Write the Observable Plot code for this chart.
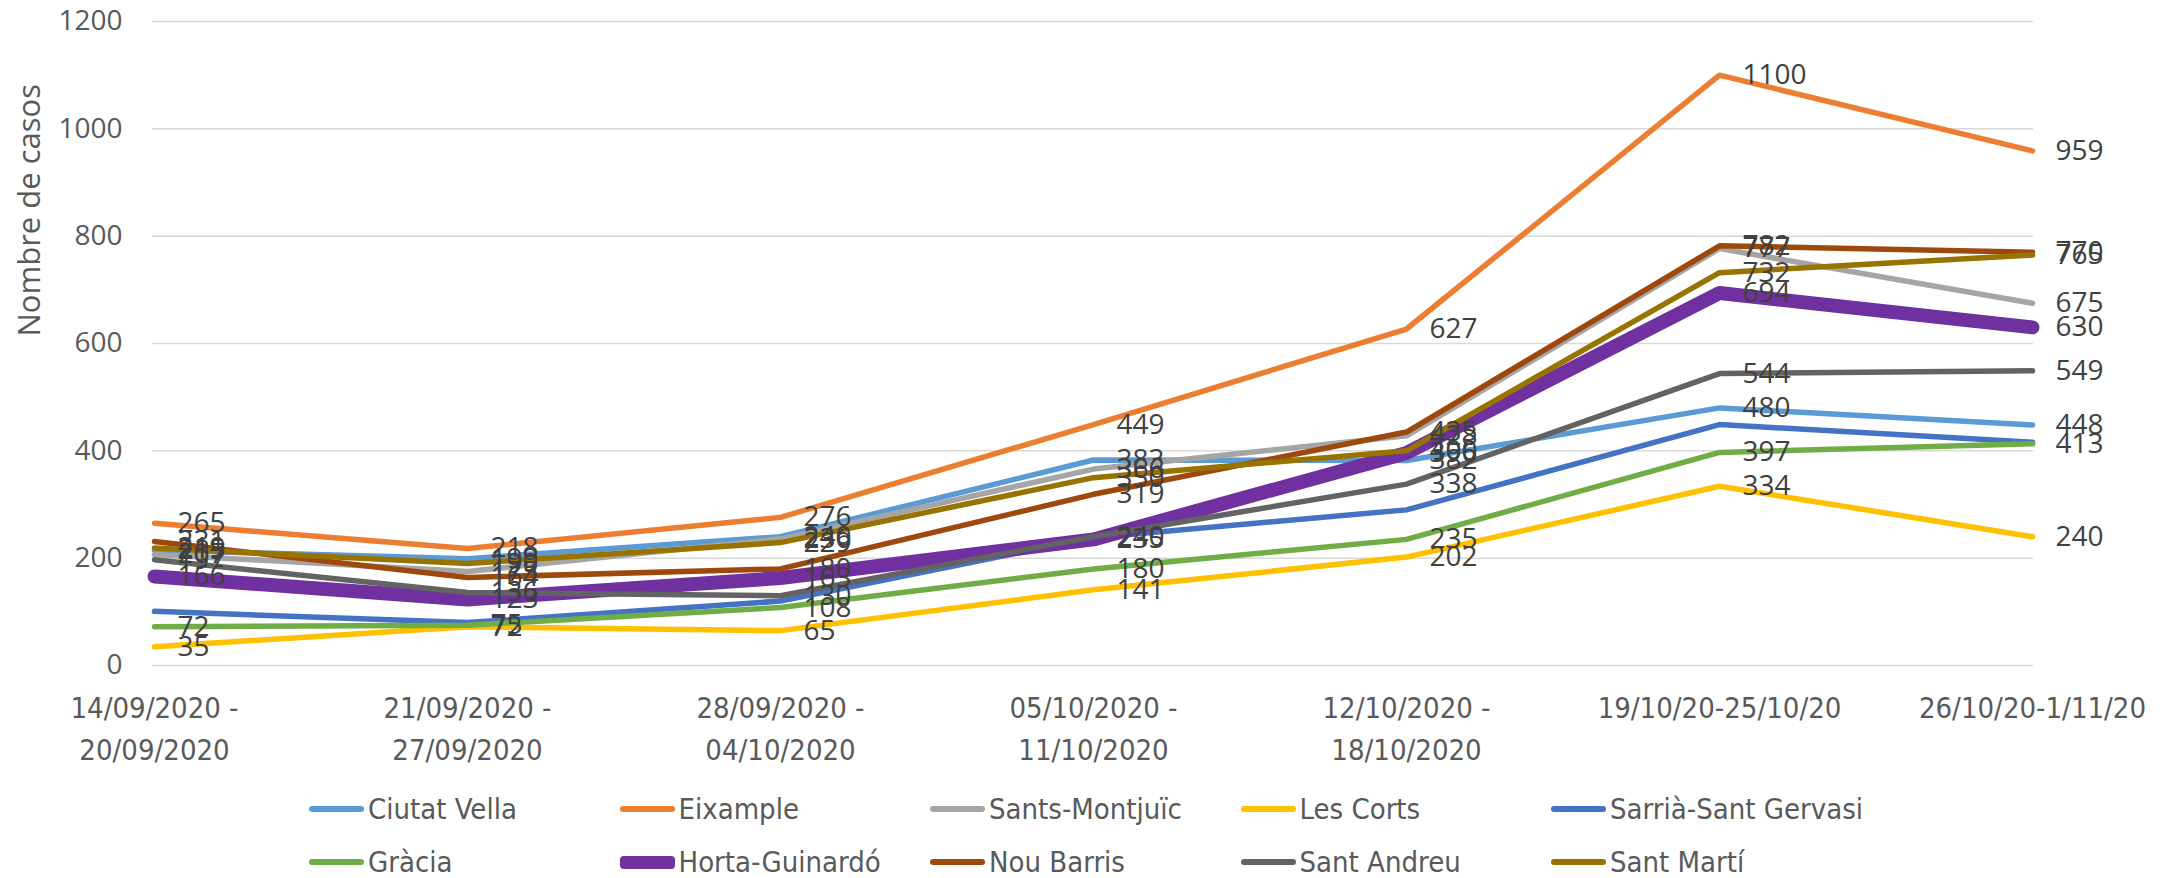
<!DOCTYPE html>
<html>
<head>
<meta charset="utf-8">
<script src="https://cdn.jsdelivr.net/npm/d3@7"></script>
<script src="https://cdn.jsdelivr.net/npm/@observablehq/plot@0.6"></script>
<style>
  html, body { margin: 0; padding: 0; background: #fff; }
  #wrap { position: relative; width: 2178px; height: 878px; overflow: hidden; }
  #legend { position: relative; width: 2178px; height: 78px; }
  .item { position: absolute; display: flex; align-items: center; height: 40px;
          font-family: "DejaVu Sans Condensed", "DejaVu Sans", sans-serif; font-stretch: condensed;
          font-size: 29px; color: #595959; white-space: nowrap; }
  .sw { width: 55px; border-radius: 4px; margin-right: 4px; }
</style>
</head>
<body>
<div id="wrap"><div id="chart"></div><div id="legend"></div></div>
<script>
const weeks = [
  "14/09/2020 -\n20/09/2020",
  "21/09/2020 -\n27/09/2020",
  "28/09/2020 -\n04/10/2020",
  "05/10/2020 -\n11/10/2020",
  "12/10/2020 -\n18/10/2020",
  "19/10/20-25/10/20",
  "26/10/20-1/11/20"
];
const districts = ["Ciutat Vella","Eixample","Sants-Montjuïc","Les Corts","Sarrià-Sant Gervasi",
                   "Gràcia","Horta-Guinardó","Nou Barris","Sant Andreu","Sant Martí"];
const ciutatVella   = [215, 199, 240, 383, 382, 480, 448];
const eixample      = [265, 218, 276, 449, 627, 1100, 959];
const santsMontjuic = [207, 175, 236, 366, 428, 777, 675];
const lesCorts      = [35, 72, 65, 141, 202, 334, 240];
const sarria        = [101, 80, 120, 238, 290, 449, 416];
const gracia        = [72, 75, 108, 180, 235, 397, 413];
const hortaGuinardo = [166, 123, 163, 235, 396, 694, 630];
const nouBarris     = [231, 164, 180, 319, 435, 782, 770];
const santAndreu    = [197, 136, 130, 240, 338, 544, 549];
const santMarti     = [219, 190, 229, 350, 400, 732, 765];
const yTicks = [0, 200, 400, 600, 800, 1000, 1200];

const values = [ciutatVella, eixample, santsMontjuic, lesCorts, sarria,
                gracia, hortaGuinardo, nouBarris, santAndreu, santMarti];
const colors = ["#5B9BD5","#ED7D31","#A5A5A5","#FFC000","#4472C4",
                "#70AD47","#7030A0","#9E480E","#636363","#997300"];
const widths = [5.5,5.5,5.5,5.5,5.5,5.5,14,5.5,5.5,5.5];
const labeled = [true,true,true,true,false,true,true,true,true,true];

const rows = districts.map((name, i) => values[i].map((v, j) => ({name, week: weeks[j], v})));

const narrow = "DejaVu Sans Condensed";
const marks = [
  Plot.gridY(yTicks, {stroke: "#D9D9D9", strokeOpacity: 1, strokeWidth: 1.5}),
  Plot.text(yTicks, {y: d => d, frameAnchor: "left", dx: -30, textAnchor: "end",
                     text: d => String(d), fontSize: 28, fontFamily: "Open Sans", fill: "#595959"}),
  Plot.text(["Nombre de casos"], {frameAnchor: "left", dx: -122, dy: -7, rotate: -90,
                     text: d => d, fontSize: 31, fontFamily: "Open Sans", fill: "#595959"}),
  Plot.text(weeks, {x: d => d, frameAnchor: "bottom", dy: 23, lineAnchor: "top", lineHeight: 1.45,
                    text: d => d, fontSize: 29, fontFamily: narrow, fill: "#595959"})
];
rows.forEach((r, i) => {
  marks.push(Plot.line(r, {x: "week", y: "v", stroke: colors[i], strokeWidth: widths[i],
                           strokeLinejoin: "round", strokeLinecap: "round"}));
});
rows.forEach((r, i) => {
  if (labeled[i]) marks.push(Plot.text(r, {x: "week", y: "v", text: d => String(d.v), dx: 23,
                    textAnchor: "start", fontSize: 28, fontFamily: "Open Sans", fill: "#404040"}));
});

const chart = Plot.plot({
  width: 2178, height: 800,
  marginLeft: 152, marginRight: 145, marginTop: 21, marginBottom: 135,
  x: {type: "point", domain: weeks, padding: 0, axis: null},
  y: {domain: [0, 1200], axis: null},
  style: {fontFamily: "Open Sans", background: "#fff", overflow: "visible"},
  marks
});
document.getElementById("chart").appendChild(chart);
chart.querySelectorAll('g[font-family*="Condensed"]').forEach(g => g.setAttribute("font-stretch", "condensed"));

const legend = document.getElementById("legend");
const rowY = [-11, 42];
districts.forEach((name, i) => {
  const col = i % 5, row = Math.floor(i / 5);
  const it = document.createElement("div");
  it.className = "item";
  it.style.left = (309 + col * 310.5) + "px";
  it.style.top = rowY[row] + "px";
  const sw = document.createElement("div");
  sw.className = "sw";
  sw.style.height = (widths[i] < 10 ? 6 : 13) + "px";
  sw.style.background = colors[i];
  it.appendChild(sw);
  const t = document.createElement("span");
  t.textContent = name;
  it.appendChild(t);
  legend.appendChild(it);
});
</script>
</body>
</html>
